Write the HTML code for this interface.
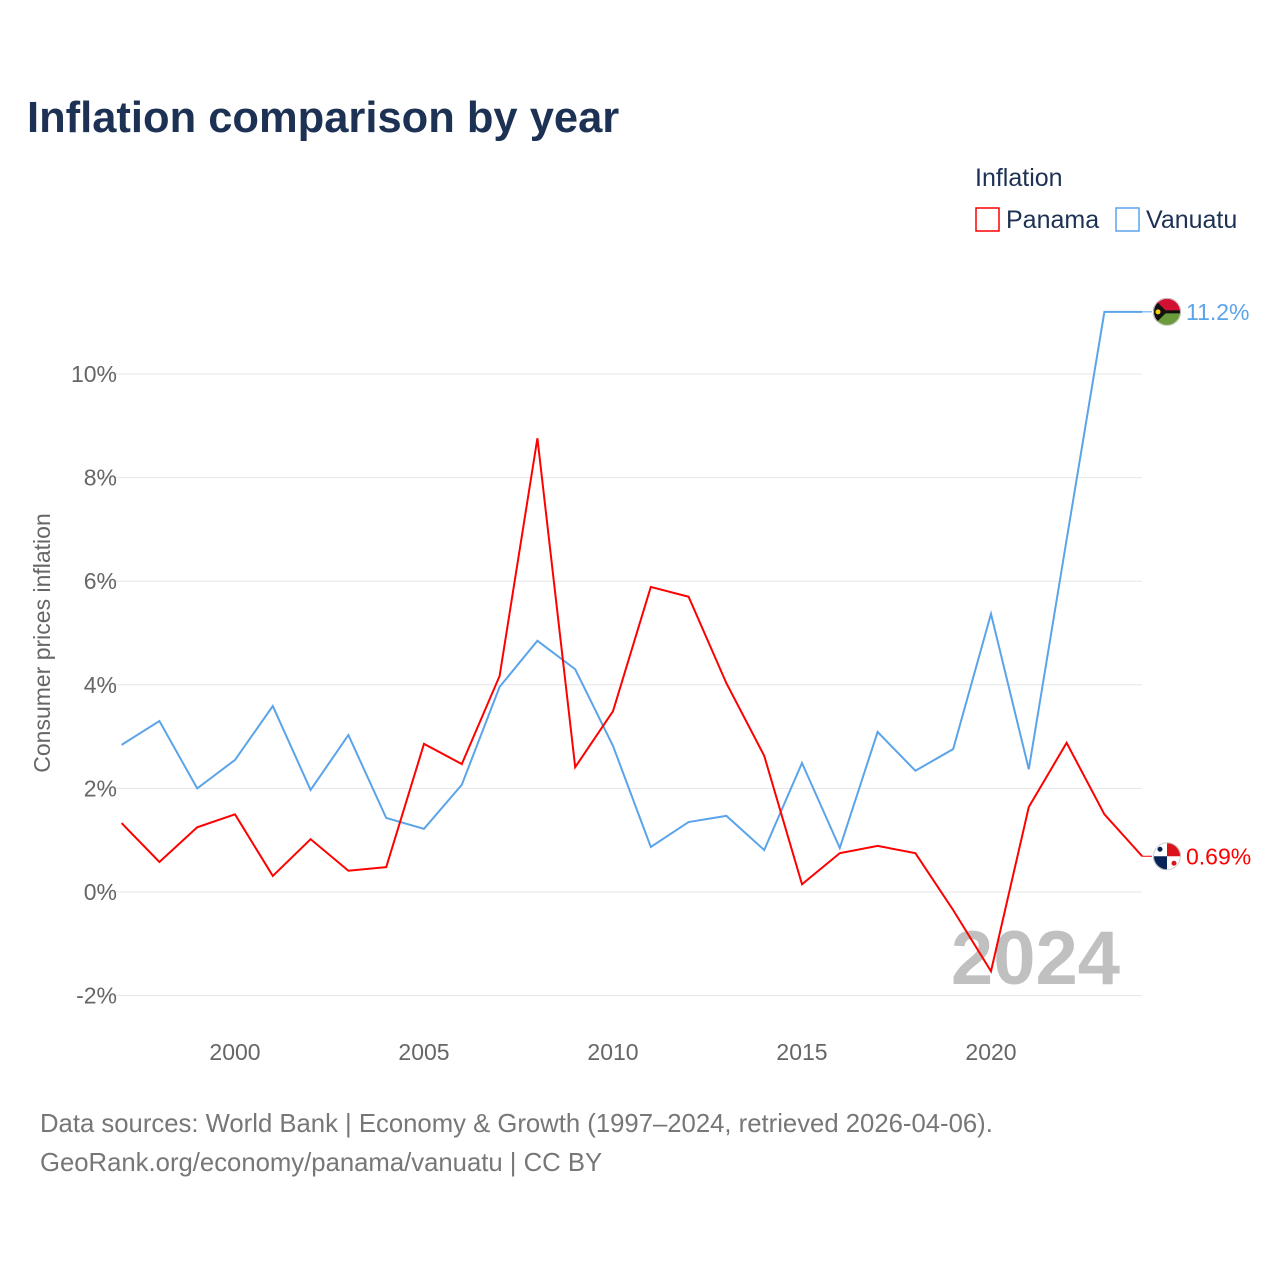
<!DOCTYPE html>
<html><head><meta charset="utf-8"><style>
body{margin:0;background:#fff;font-family:"Liberation Sans",sans-serif}
</style></head><body>
<svg width="1280" height="1280" xmlns="http://www.w3.org/2000/svg">
<defs><clipPath id="c1"><circle cx="0" cy="0" r="14"/></clipPath></defs>
<text x="27" y="132" font-size="43.5" font-weight="bold" fill="#1c3153">Inflation comparison by year</text>
<text x="975" y="186" font-size="25" fill="#1c3153">Inflation</text>
<g><rect x="976" y="208" width="23" height="23" fill="none" stroke="#f00" stroke-width="1.5"/><text x="1006" y="228" font-size="25" fill="#1c3153">Panama</text></g>
<g><rect x="1116" y="208" width="23" height="23" fill="none" stroke="#5ba4ea" stroke-width="1.5"/><text x="1146" y="228" font-size="25" fill="#1c3153">Vanuatu</text></g>
<g id="grid"></g><g id="xt"></g>
<text x="1120" y="984" font-size="76" font-weight="bold" fill="#c0c0c0" text-anchor="end">2024</text>
<text transform="translate(50,643) rotate(-90)" font-size="23" fill="#666" text-anchor="middle">Consumer prices inflation</text>
<g id="series"></g>
<text x="40" y="1132" font-size="25.7" fill="#777">Data sources: World Bank | Economy &amp; Growth (1997–2024, retrieved 2026-04-06).</text>
<text x="40" y="1171" font-size="25.7" fill="#777">GeoRank.org/economy/panama/vanuatu | CC BY</text>
</svg>
<script>
const years=[1997,1998,1999,2000,2001,2002,2003,2004,2005,2006,2007,2008,2009,2010,2011,2012,2013,2014,2015,2016,2017,2018,2019,2020,2021,2022,2023,2024];
const panama=[1.33,0.58,1.25,1.5,0.31,1.02,0.41,0.48,2.86,2.47,4.17,8.76,2.41,3.49,5.89,5.7,4.03,2.63,0.15,0.75,0.89,0.75,-0.35,-1.53,1.64,2.88,1.5,0.69];
const vanuatu=[2.84,3.3,2.0,2.55,3.59,1.97,3.03,1.43,1.22,2.07,3.96,4.85,4.3,2.82,0.87,1.35,1.47,0.81,2.49,0.85,3.09,2.34,2.76,5.37,2.37,6.8,11.2,11.2];
const yTicks=[-2,0,2,4,6,8,10];
const xTicks=[2000,2005,2010,2015,2020];
const NS="http://www.w3.org/2000/svg";
const X=v=>121.6+(v-1997)*37.8, Y=v=>892-v*51.8;
function mk(t,a,p){const e=document.createElementNS(NS,t);for(const k in a)e.setAttribute(k,a[k]);p.appendChild(e);return e;}
const g=document.getElementById('grid');
yTicks.forEach(t=>{const l=mk('line',{x1:98,x2:1142,y1:Y(t),y2:Y(t),stroke:'#e6e6e6','stroke-width':1},g);


const tx=mk('text',{x:117,y:Y(t)+8,'font-size':23,fill:'#666','text-anchor':'end'},g);tx.textContent=t+'%';

});
const xt=document.getElementById('xt');
xTicks.forEach(t=>{const tx=mk('text',{x:X(t),y:1060,'font-size':23,fill:'#666','text-anchor':'middle'},xt);tx.textContent=t;

});
const s=document.getElementById('series');
function flag(n,ly){const f=mk('g',{transform:'translate(1167,'+ly+')','clip-path':'url(#c1)'},s);


if(n==='vanuatu'){mk('rect',{x:-14,y:-14,width:28,height:14,fill:'#d21034'},f);mk('rect',{x:-14,y:0,width:28,height:14,fill:'#6a9a3a'},f);
mk('rect',{x:-14,y:-1.5,width:28,height:3,fill:'#111'},f);mk('polygon',{points:'-14,-14 0,0 -14,14',fill:'#111'},f);mk('circle',{cx:-9,cy:0,r:2.5,fill:'#fdce12'},f);}
else{mk('rect',{x:-14,y:-14,width:28,height:28,fill:'#fff'},f);mk('rect',{x:0,y:-14,width:14,height:14,fill:'#da121a'},f);mk('rect',{x:-14,y:0,width:14,height:14,fill:'#072357'},f);
mk('circle',{cx:-7,cy:-7,r:2.5,fill:'#072357'},f);mk('circle',{cx:7,cy:7,r:2.5,fill:'#da121a'},f);}
mk('circle',{cx:0,cy:0,r:13.5,fill:'none',stroke:'#ccc','stroke-width':1},f);}
function line(d,c,n,lbl){const p=mk('polyline',{points:d.map((v,i)=>X(years[i])+','+Y(v)).join(' '),fill:'none',stroke:c,'stroke-width':2},s);


const ly=Y(d[d.length-1]),lx=X(years[years.length-1]);
mk('line',{x1:lx,x2:1152,y1:ly,y2:ly,stroke:c,'stroke-width':1},s);
flag(n,ly);
const t=mk('text',{x:1186,y:ly+8,'font-size':23,fill:c},s);t.textContent=lbl;

}
line(vanuatu,'#5ba4ea','vanuatu',vanuatu[vanuatu.length-1].toFixed(1)+'%');
line(panama,'#ff0000','panama',panama[panama.length-1].toFixed(2)+'%');
</script>
</body></html>
